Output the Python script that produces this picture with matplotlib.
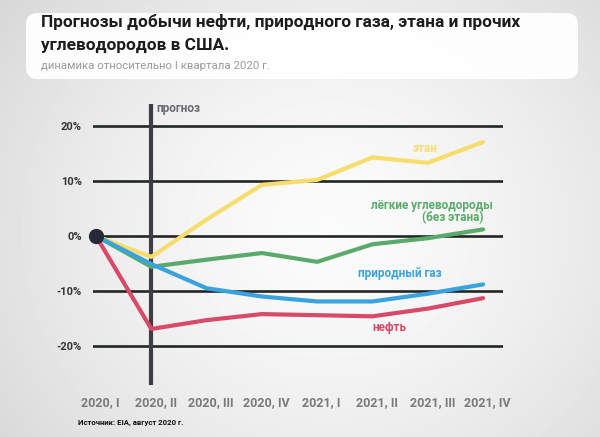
import numpy as np
import matplotlib
matplotlib.use("Agg")
import matplotlib.pyplot as plt
from matplotlib.patches import FancyBboxPatch

plt.rcParams['font.family'] = ['Roboto', 'DejaVu Sans']

quarters = ["2020, I", "2020, II", "2020, III", "2020, IV",
            "2021, I", "2021, II", "2021, III", "2021, IV"]
ethane = [0, -3.8, 3.0, 9.3, 10.2, 14.3, 13.3, 17.1]
ngl = [0, -5.6, -4.3, -3.1, -4.7, -1.5, -0.4, 1.2]
natgas = [0, -5.1, -9.5, -11.0, -11.9, -11.9, -10.5, -8.8]
oil = [0, -16.9, -15.3, -14.2, -14.4, -14.6, -13.2, -11.3]
yticks = [-20, -10, 0, 10, 20]
ytick_labels = ["-20%", "-10%", "0%", "10%", "20%"]

C_ETH = "#f6dd6c"
C_NGL = "#5aab6b"
C_GAS = "#3aa2dc"
C_OIL = "#d84b68"

fig = plt.figure(figsize=(6, 4.37), dpi=100)

# background radial gradient
bg = fig.add_axes([0, 0, 1, 1], zorder=-10)
yy, xx = np.mgrid[0:437, 0:600]
r = np.sqrt(((xx - 330) / 330.0) ** 2 + ((yy - 230) / 300.0) ** 2)
val = 0.985 - 0.10 * np.clip(r, 0, 1.3) ** 1.5
bg.imshow(val, cmap="gray", vmin=0, vmax=1, aspect="auto", extent=[0, 600, 437, 0])
bg.set_xlim(0, 600)
bg.set_ylim(437, 0)
bg.axis("off")

# title panel
box = FancyBboxPatch((26, 13), 552, 66, boxstyle="round,pad=0,rounding_size=12",
                     facecolor="white", edgecolor="none", alpha=0.95)
bg.add_patch(box)
bg.text(41, 22, "Прогнозы добычи нефти, природного газа, этана и прочих",
        fontsize=12.4, fontweight="bold", color="#1c1c1c", va="center", ha="left")
bg.text(41, 45, "углеводородов в США.",
        fontsize=12.4, fontweight="bold", color="#1c1c1c", va="center", ha="left")
bg.text(41, 66, "динамика относительно I квартала 2020 г.",
        fontsize=8.2, color="#9a9a9a", va="center", ha="left")
bg.text(78, 422, "Источник: EIA, август 2020 г.", fontsize=5.6, fontweight="bold",
        color="#111111", va="center", ha="left")

ax = fig.add_axes([93 / 600, (437 - 384.5) / 437, 410 / 600, (384.5 - 104) / 437])
ax.set_facecolor("none")
x = np.arange(len(quarters))
ax.set_xlim(-0.054, 7.36)
ax.set_ylim(-27, 24)

for yv in yticks:
    ax.axhline(yv, color="#222625", lw=1.9, zorder=1)
ax.axvline(1, color="#3c3d45", lw=3.0, zorder=2)

ax.plot(x, ethane, color=C_ETH, lw=3, zorder=3, solid_capstyle="round")
ax.plot(x, ngl, color=C_NGL, lw=3, zorder=3, solid_capstyle="round")
ax.plot(x, natgas, color=C_GAS, lw=3, zorder=4, solid_capstyle="round")
ax.plot(x, oil, color=C_OIL, lw=3, zorder=4, solid_capstyle="round")
ax.plot([0], [0], "o", color="#252a36", markersize=10, zorder=6, clip_on=False)

for s in ax.spines.values():
    s.set_visible(False)
ax.set_yticks(yticks)
ax.set_yticklabels(ytick_labels, fontsize=8, fontweight="bold", color="#333333")
ax.set_xticks(x + 0.08)
ax.set_xticklabels(quarters, fontsize=9, fontweight="bold", color="#7a7a7a")
ax.tick_params(axis="y", length=0, pad=8)
ax.tick_params(axis="x", length=0, pad=8)

ax.text(1.1, 23.2, "прогноз", fontsize=8.5, fontweight="bold", color="#6a6a70",
        ha="left", va="center")
ax.text(5.95, 16.0, "этан", fontsize=8.5, fontweight="bold", color=C_ETH,
        ha="center", va="center")
ax.text(7.18, 5.5, "лёгкие углеводороды", fontsize=8.5, fontweight="bold",
        color=C_NGL, ha="right", va="center")
ax.text(7.0, 3.3, "(без этана)", fontsize=8.5, fontweight="bold",
        color=C_NGL, ha="right", va="center")
ax.text(5.5, -6.9, "природный газ", fontsize=8.5, fontweight="bold",
        color=C_GAS, ha="center", va="center")
ax.text(5.3, -16.6, "нефть", fontsize=8.5, fontweight="bold", color=C_OIL,
        ha="center", va="center")

fig.savefig("out.png", dpi=100)
